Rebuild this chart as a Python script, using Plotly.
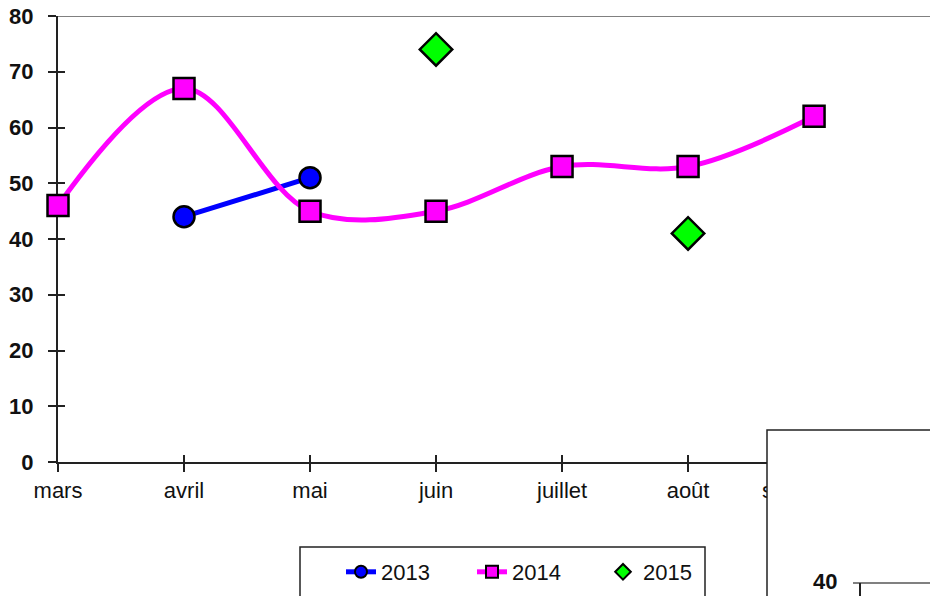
import plotly.graph_objects as go

months = ["mars", "avril", "mai", "juin", "juillet", "août", "septembre"]

x2013 = ["avril", "mai"]
y2013 = [44, 51]

x2014 = ["mars", "avril", "mai", "juin", "juillet", "août", "septembre"]
y2014 = [46, 67, 45, 45, 53, 53, 62]

x2015 = ["juin", "août"]
y2015 = [74, 41]

yticks = [0, 10, 20, 30, 40, 50, 60, 70, 80]

FONT = "Liberation Sans, Arial, sans-serif"
AX = "#222222"
FS = 22

fig = go.Figure()
fig.add_trace(go.Scatter(
    x=x2013, y=y2013, name="2013", mode="lines+markers",
    line=dict(color="#0000FF", width=5),
    marker=dict(symbol="circle", size=21, color="#0000FF", line=dict(color="black", width=2.5)),
    cliponaxis=False,
))
fig.add_trace(go.Scatter(
    x=x2014, y=y2014, name="2014", mode="lines+markers",
    line=dict(color="#FF00FF", width=5, shape="spline", smoothing=1.0),
    marker=dict(symbol="square", size=21, color="#FF00FF", line=dict(color="black", width=2.5)),
    cliponaxis=False,
))
fig.add_trace(go.Scatter(
    x=x2015, y=y2015, name="2015", mode="markers",
    marker=dict(symbol="diamond", size=25, color="#00FF00", line=dict(color="black", width=2.5)),
    cliponaxis=False,
))

n = len(months)
xr = [0, 6.92]

fig.update_layout(
    width=930, height=596,
    margin=dict(l=58, r=0, t=16, b=134),
    paper_bgcolor="white", plot_bgcolor="white",
    font=dict(family=FONT, size=FS, color="#111111"),
    showlegend=True,
    legend=dict(
        orientation="h", x=(341 - 58) / 872, xanchor="left", y=(462 - 551) / 446, yanchor="top",
        borderwidth=0, bgcolor="rgba(0,0,0,0)",
        font=dict(family=FONT, size=FS, color="#111111"),
        itemsizing="constant", entrywidth=86, entrywidthmode="pixels",
    ),
    xaxis=dict(
        type="category", categoryorder="array", categoryarray=months,
        range=xr, showgrid=False, zeroline=False,
        showline=True, linecolor=AX, linewidth=2,
        ticks="outside", ticklen=8, tickwidth=1.5, tickcolor=AX,
        tickfont=dict(family=FONT, size=FS, color="#111111"),
        ticklabelstandoff=0,
        layer="below traces",
    ),
    yaxis=dict(
        range=[0, 80], tickvals=yticks, showgrid=False, zeroline=False,
        showline=True, linecolor=AX, linewidth=2,
        ticks="outside", ticklen=8, tickwidth=1.5, tickcolor=AX,
        tickfont=dict(family=FONT, size=FS, color="#111111", weight="bold"),
        ticklabelstandoff=10,
        layer="below traces",
    ),
    xaxis2=dict(
        overlaying="x", anchor="y", range=xr, tickvals=list(range(n)),
        showticklabels=False, showgrid=False, zeroline=False, showline=False,
        ticks="inside", ticklen=7, tickwidth=1.5, tickcolor=AX, layer="below traces",
    ),
    yaxis2=dict(
        overlaying="y", anchor="x", range=[0, 80], tickvals=yticks,
        showticklabels=False, showgrid=False, zeroline=False, showline=False,
        ticks="inside", ticklen=7, tickwidth=1.5, tickcolor=AX, layer="below traces",
    ),
)

# invisible trace to activate overlay axes (crossing ticks)
fig.add_trace(go.Scatter(x=[0], y=[0], xaxis="x2", yaxis="y2", mode="markers",
                         marker=dict(opacity=0), showlegend=False, hoverinfo="skip"))

# top plot border (gray)
fig.add_shape(type="line", xref="paper", yref="y", x0=0, x1=1, y0=80, y1=80,
              line=dict(color="#808080", width=2), layer="below")

# legend frame (extends past the bottom edge like the reference)
fig.add_shape(type="rect", xref="paper", yref="paper",
              x0=(300 - 58) / 872, x1=(705 - 58) / 872, y0=-0.35, y1=(462 - 547) / 446,
              line=dict(color="#222222", width=1.5), fillcolor="white", layer="above")

# overlapping second chart frame at bottom right
fig.add_shape(type="rect", xref="paper", yref="paper",
              x0=(767 - 58) / 872, x1=1.02, y0=-0.35, y1=(462 - 430) / 446,
              line=dict(color="#222222", width=1.5), fillcolor="white", layer="above")
fig.add_shape(type="line", xref="paper", yref="paper",
              x0=(853 - 58) / 872, x1=1.02, y0=(462 - 583) / 446, y1=(462 - 583) / 446,
              line=dict(color="#808080", width=2), layer="above")
fig.add_shape(type="line", xref="paper", yref="paper",
              x0=(860 - 58) / 872, x1=(860 - 58) / 872, y0=(462 - 583) / 446, y1=-0.35,
              line=dict(color="#222222", width=2), layer="above")
fig.add_annotation(xref="paper", yref="paper", x=(839 - 58) / 872, y=(462 - 581) / 446,
                   xanchor="right", yanchor="middle", text="<b>40</b>", showarrow=False,
                   font=dict(family=FONT, size=FS, color="#111111"))

fig.write_html("out.html", config={"displayModeBar": False},
               post_script="document.body.style.margin='0';document.body.style.overflow='hidden';")
